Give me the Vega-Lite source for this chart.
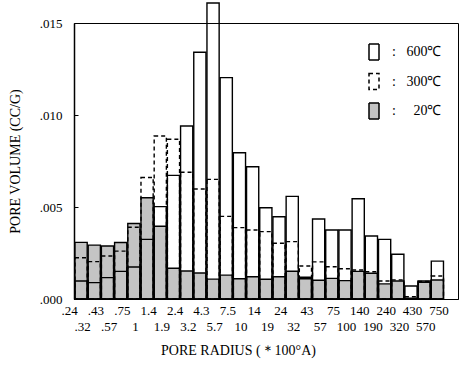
{
  "$schema": "https://vega.github.io/schema/vega-lite/v6.json",
  "width": 384,
  "height": 276,
  "autosize": {"type": "none"},
  "padding": {"left": 74, "top": 23, "right": 5, "bottom": 70},
  "params": [
    {"name": "L", "value": [".24", ".32", ".43", ".57", ".75", "1", "1.4", "1.9", "2.4", "3.2", "4.3", "5.7", "7.5", "10", "14", "19", "24", "32", "43", "57", "75", "100", "140", "190", "240", "320", "430", "570", "750"]}
  ],
  "config": {
    "view": {"stroke": "black", "strokeWidth": 1},
    "font": "Liberation Serif",
    "axis": {"labelFont": "Liberation Serif", "titleFont": "Liberation Serif", "labelColor": "black", "titleColor": "black", "domainColor": "black", "tickColor": "black", "grid": false, "titleFontWeight": "normal"}
  },
  "data": {"values": [
    {"b": 0, "t": "20℃", "v": 0.00308}, {"b": 1, "t": "20℃", "v": 0.00293}, {"b": 2, "t": "20℃", "v": 0.00288}, {"b": 3, "t": "20℃", "v": 0.00307},
    {"b": 4, "t": "20℃", "v": 0.0041}, {"b": 5, "t": "20℃", "v": 0.0055}, {"b": 6, "t": "20℃", "v": 0.00395}, {"b": 7, "t": "20℃", "v": 0.00167},
    {"b": 8, "t": "20℃", "v": 0.00152}, {"b": 9, "t": "20℃", "v": 0.00141}, {"b": 10, "t": "20℃", "v": 0.00108}, {"b": 11, "t": "20℃", "v": 0.0013},
    {"b": 12, "t": "20℃", "v": 0.0011}, {"b": 13, "t": "20℃", "v": 0.00121}, {"b": 14, "t": "20℃", "v": 0.00107}, {"b": 15, "t": "20℃", "v": 0.00121},
    {"b": 16, "t": "20℃", "v": 0.00151}, {"b": 17, "t": "20℃", "v": 0.0011}, {"b": 18, "t": "20℃", "v": 0.00102}, {"b": 19, "t": "20℃", "v": 0.00112},
    {"b": 20, "t": "20℃", "v": 0.001}, {"b": 21, "t": "20℃", "v": 0.0015}, {"b": 22, "t": "20℃", "v": 0.0014}, {"b": 23, "t": "20℃", "v": 0.00082},
    {"b": 24, "t": "20℃", "v": 0.00098}, {"b": 25, "t": "20℃", "v": 0.00005}, {"b": 26, "t": "20℃", "v": 0.00091}, {"b": 27, "t": "20℃", "v": 0.00103},
    {"b": 0, "t": "300℃", "v": 0.00224}, {"b": 1, "t": "300℃", "v": 0.00203}, {"b": 2, "t": "300℃", "v": 0.00234}, {"b": 3, "t": "300℃", "v": 0.0026},
    {"b": 4, "t": "300℃", "v": 0.0039}, {"b": 5, "t": "300℃", "v": 0.0066}, {"b": 6, "t": "300℃", "v": 0.00886}, {"b": 7, "t": "300℃", "v": 0.00868},
    {"b": 8, "t": "300℃", "v": 0.00689}, {"b": 9, "t": "300℃", "v": 0.00598}, {"b": 10, "t": "300℃", "v": 0.0065}, {"b": 11, "t": "300℃", "v": 0.00449},
    {"b": 12, "t": "300℃", "v": 0.00388}, {"b": 13, "t": "300℃", "v": 0.00375}, {"b": 14, "t": "300℃", "v": 0.00366}, {"b": 15, "t": "300℃", "v": 0.00303},
    {"b": 16, "t": "300℃", "v": 0.00312}, {"b": 17, "t": "300℃", "v": 0.00179}, {"b": 18, "t": "300℃", "v": 0.00202}, {"b": 19, "t": "300℃", "v": 0.00175},
    {"b": 20, "t": "300℃", "v": 0.00164}, {"b": 21, "t": "300℃", "v": 0.00158}, {"b": 22, "t": "300℃", "v": 0.00148}, {"b": 23, "t": "300℃", "v": 0.00098},
    {"b": 24, "t": "300℃", "v": 0.00104}, {"b": 25, "t": "300℃", "v": 0.00012}, {"b": 26, "t": "300℃", "v": 0.00096}, {"b": 27, "t": "300℃", "v": 0.00125},
    {"b": 0, "t": "600℃", "v": 0.00098}, {"b": 1, "t": "600℃", "v": 0.00089}, {"b": 2, "t": "600℃", "v": 0.00116}, {"b": 3, "t": "600℃", "v": 0.0015},
    {"b": 4, "t": "600℃", "v": 0.00174}, {"b": 5, "t": "600℃", "v": 0.00324}, {"b": 6, "t": "600℃", "v": 0.00502}, {"b": 7, "t": "600℃", "v": 0.00672},
    {"b": 8, "t": "600℃", "v": 0.0094}, {"b": 9, "t": "600℃", "v": 0.01341}, {"b": 10, "t": "600℃", "v": 0.01609}, {"b": 11, "t": "600℃", "v": 0.01203},
    {"b": 12, "t": "600℃", "v": 0.00795}, {"b": 13, "t": "600℃", "v": 0.00719}, {"b": 14, "t": "600℃", "v": 0.00496}, {"b": 15, "t": "600℃", "v": 0.00447},
    {"b": 16, "t": "600℃", "v": 0.00558}, {"b": 17, "t": "600℃", "v": 0.00118}, {"b": 18, "t": "600℃", "v": 0.00435}, {"b": 19, "t": "600℃", "v": 0.00375},
    {"b": 20, "t": "600℃", "v": 0.00375}, {"b": 21, "t": "600℃", "v": 0.00545}, {"b": 22, "t": "600℃", "v": 0.00342}, {"b": 23, "t": "600℃", "v": 0.00324},
    {"b": 24, "t": "600℃", "v": 0.00243}, {"b": 25, "t": "600℃", "v": 0.00071}, {"b": 26, "t": "600℃", "v": 0.00098}, {"b": 27, "t": "600℃", "v": 0.00206}
  ]},
  "mark": {"type": "bar", "stroke": "black", "strokeWidth": 1.4, "clip": false},
  "encoding": {
    "x": {
      "field": "b", "type": "quantitative", "bin": {"binned": true, "step": 1},
      "scale": {"domain": [0, 29.1], "nice": false, "zero": false},
      "axis": {
        "values": [0, 1, 2, 3, 4, 5, 6, 7, 8, 9, 10, 11, 12, 13, 14, 15, 16, 17, 18, 19, 20, 21, 22, 23, 24, 25, 26, 27, 28],
        "ticks": false, "labelOverlap": false, "labelFlush": false, "labelBound": false,
        "labelPadding": 5, "labelOffset": -5, "labelFontSize": 13, "labelLineHeight": 16, "labelBaseline": "top",
        "labelExpr": "datum.value % 2 == 0 ? [L[datum.value], ''] : ['', L[datum.value]]",
        "title": "PORE RADIUS (＊100°A)", "titleFontSize": 14, "titleX": 164, "titleY": 44, "titleAlign": "center", "titleBaseline": "top"
      }
    },
    "y": {
      "field": "v", "type": "quantitative", "stack": null,
      "scale": {"domain": [0, 0.015], "nice": false},
      "axis": {
        "values": [0, 0.005, 0.01, 0.015],
        "labelExpr": "replace(format(datum.value, '.3f'), '0.', '.')",
        "labelFontSize": 13, "tickSize": -4, "labelPadding": 16, "domainWidth": 1.5,
        "title": "PORE VOLUME (CC/G)", "titleFontSize": 14, "titleX": -59, "titleY": 138, "titleAngle": 270, "titleAlign": "center", "titleBaseline": "middle"
      }
    },
    "fill": {
      "field": "t", "type": "nominal",
      "scale": {"domain": ["600℃", "300℃", "20℃"], "range": ["transparent", "transparent", "#c4c4c4"]},
      "legend": {"orient": "none", "legendX": 289, "legendY": 18, "title": null, "symbolType": "M-0.5,-0.8L0.5,-0.8L0.5,0.8L-0.5,0.8Z", "symbolSize": 400, "labelFontSize": 14, "labelFont": "Liberation Serif", "labelColor": "black", "rowPadding": 7.5, "labelOffset": 7, "labelExpr": "datum.label == '20℃' ? ': \u2002\u2007' + datum.label : ': \u2002' + datum.label",
        "encode": {"symbols": {"update": {"stroke": {"value": "black"}, "strokeWidth": {"value": 1.4}}}}}
    },
    "strokeDash": {
      "field": "t", "type": "nominal",
      "scale": {"domain": ["600℃", "300℃", "20℃"], "range": [[1, 0], [4, 3], [1, 0]]},
      "legend": {"orient": "none", "legendX": 289, "legendY": 18, "title": null, "symbolType": "M-0.5,-0.8L0.5,-0.8L0.5,0.8L-0.5,0.8Z", "symbolSize": 400, "labelFontSize": 14, "labelFont": "Liberation Serif", "labelColor": "black", "rowPadding": 7.5, "labelOffset": 7, "labelExpr": "datum.label == '20℃' ? ': \u2002\u2007' + datum.label : ': \u2002' + datum.label",
        "encode": {"symbols": {"update": {"stroke": {"value": "black"}, "strokeWidth": {"value": 1.4}}}}}
    }
  }
}
